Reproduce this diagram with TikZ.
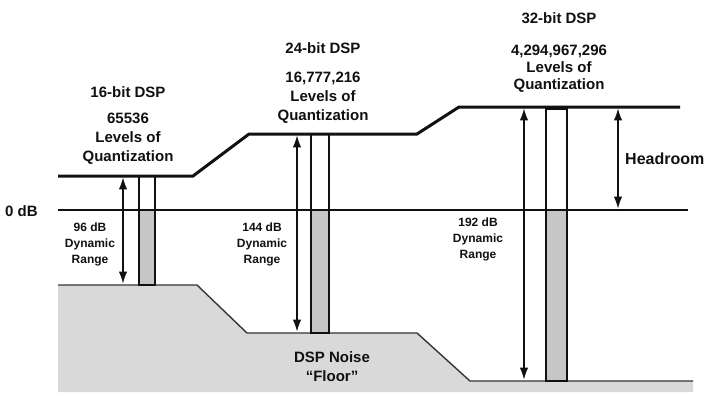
\documentclass[tikz,border=0pt]{standalone}
\usepackage{fontspec}
\setmainfont{Liberation Sans}
\usetikzlibrary{arrows.meta}
\definecolor{grund}{HTML}{D9D9D9}
\definecolor{saeule}{HTML}{C6C6C6}
\definecolor{tinte}{HTML}{111111}
\tikzset{
  lvl/.style={tinte,line width=3pt},
  zero/.style={tinte,line width=1.8pt},
  floorline/.style={tinte!85,line width=1.4pt},
  bar/.style={tinte,line width=1.4pt},
  dyn/.style={{Latex[length=12pt,width=8.5pt]}-{Latex[length=12pt,width=8.5pt]},tinte,line width=1.4pt,shorten <=1.4pt,shorten >=1.4pt},
  big/.style={tinte,font=\bfseries\fontsize{15}{19}\selectfont,align=center,inner sep=0pt},
  small/.style={tinte,font=\bfseries\fontsize{12}{16}\selectfont,align=center,inner sep=0pt},
}
\begin{document}
\begin{tikzpicture}[x=1pt,y=-1pt]
  \useasboundingbox[fill=white] (0,0) rectangle (706,392);
  % --- Rauschboden ---
  \fill[grund] (58,285)--(197,285)--(247,333)--(417,333)--(470,381)--(693,381)--(693,392)--(58,392)--cycle;
  \draw[floorline] (58,285)--(197,285)--(247,333)--(417,333)--(470,381)--(693,381);
  % --- Säulen ---
  \draw[bar,fill=white] (139,176) rectangle (155,210);
  \draw[bar,fill=saeule] (139,210) rectangle (155,285);
  \draw[bar,fill=white] (311,134) rectangle (329,210);
  \draw[bar,fill=saeule] (311,210) rectangle (329,333);
  \draw[bar,fill=white] (546,109) rectangle (567,210);
  \draw[bar,fill=saeule] (546,210) rectangle (567,381);
  % --- Pegel ---
  \draw[lvl] (58,176)--(193,176)--(249,134)--(417,134)--(459,107)--(680,107);
  \draw[zero] (58,210)--(688,210);
  \node[big,anchor=west] (null) at (5,211) {0 dB};
  % --- Dynamikbereiche ---
  \coordinate (top16) at (123,176);
  \coordinate (bot16) at (123,285);
  \coordinate (top24) at (297,134);
  \coordinate (bot24) at (297,333);
  \coordinate (top32) at (524,107);
  \coordinate (bot32) at (524,381);
  \coordinate (toph) at (618,107);
  \coordinate (both) at (618,210);
  \draw[dyn] (top16)--(bot16);
  \draw[dyn] (top24)--(bot24);
  \draw[dyn] (top32)--(bot32);
  \draw[dyn] (toph)--(both);
  \node[small] (dr16) at (90,244) {96 dB\\Dynamic\\Range};
  \node[small] (dr24) at (262,244) {144 dB\\Dynamic\\Range};
  \node[small] (dr32) at (478,239) {192 dB\\Dynamic\\Range};
  \node[big,anchor=west,font=\bfseries\fontsize{16}{19}\selectfont] (head) at (625,159) {Headroom};
  % --- Beschriftung ---
  \node[big] (t16) at (128,92) {16-bit DSP};
  \node[big] (q16) at (128,139) {65536\\Levels of\\Quantization};
  \node[big] (t24) at (323,48) {24-bit DSP};
  \node[big] (q24) at (323,98) {16,777,216\\Levels of\\Quantization};
  \node[big] (t32) at (559,18) {32-bit DSP};
  \node[big,font=\bfseries\fontsize{15}{17}\selectfont] (q32) at (559,69) {4,294,967,296\\Levels of\\Quantization};
  \node[big] (noise) at (332,367) {DSP Noise\\``Floor''};
\end{tikzpicture}
\end{document}
